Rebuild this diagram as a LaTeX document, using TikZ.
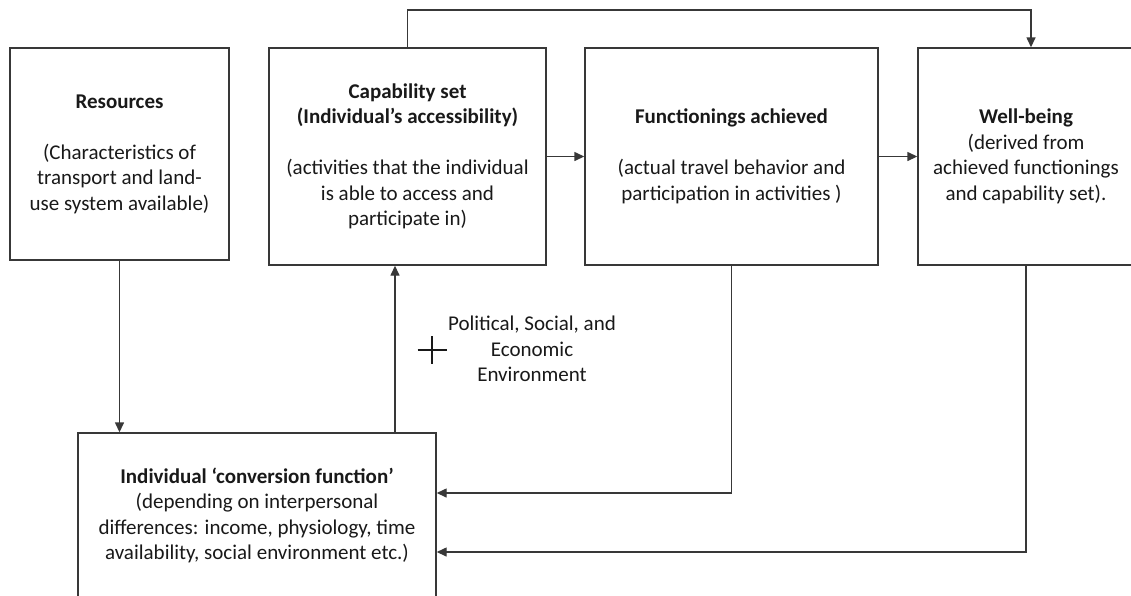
\documentclass[tikz,border=0pt]{standalone}
\usepackage{fontspec}
\setmainfont{Carlito}
\usetikzlibrary{arrows.meta}
\begin{document}
\begin{tikzpicture}[x=1pt,y=-1pt,
  box/.style={draw=black!78, line width=1.4pt, align=center, inner sep=0pt,
    font=\fontsize{21}{25.5}\selectfont, text=black!90},
  txt/.style={align=center, inner sep=0pt, font=\fontsize{21}{25.5}\selectfont, text=black!90},
  conn/.style={draw=black!78, line width=1.4pt, -{Triangle[length=10pt,width=9pt]}},
  plain/.style={draw=black!78, line width=1.4pt}]
\useasboundingbox (0,0) rectangle (1131,595);
\fill[white] (0,0) rectangle (1131,595);

\node[box, minimum width=219pt, minimum height=212pt] (res) at (119.5,154)
  {\textbf{Resources}\\[25.5pt](Characteristics of\\transport and land-\\use system available)};
\node[box, minimum width=277pt, minimum height=217pt] (cap) at (407.5,156.5)
  {\textbf{Capability set}\\\textbf{(Individual’s accessibility)}\\[25.5pt](activities that the individual\\is able to access and\\participate in)};
\node[box, minimum width=293pt, minimum height=217pt] (fun) at (731.5,156.5)
  {\textbf{Functionings achieved}\\[25.5pt](actual travel behavior and\\participation in activities )};
\node[box, minimum width=216pt, minimum height=217pt] (wb) at (1026,156.5)
  {\textbf{Well-being}\\(derived from\\achieved functionings\\and capability set).};
\node[box, minimum width=358pt, minimum height=165pt] (conv) at (257,515.5)
  {\textbf{Individual ‘conversion function’}\\(depending on interpersonal\\differences: income, physiology, time\\availability, social environment etc.)};

\node[txt] (env) at (532,349) {Political, Social, and\\Economic\\Environment};
\coordinate (plus) at (432,350);
\draw[line width=2.4pt, black!90] (plus) ++(-14.5,0) -- ++(29,0);
\draw[line width=2.4pt, black!90] (plus) ++(0,-14) -- ++(0,28);

\coordinate (upx) at (395,0);
\coordinate (topy) at (0,10);
\coordinate (wbx) at (1031,0);
\coordinate (y1) at (0,493);
\coordinate (y2) at (0,552);

\draw[conn] (res.south) -- (conv.north -| res.south);
\draw[conn] (conv.north -| upx) -- (cap.south -| upx);
\draw[conn] (cap.north) -- (cap.north |- topy) -- (topy -| wbx) -- (wb.north -| wbx);
\draw[conn] (cap.east) -- (fun.west);
\draw[conn] (fun.east) -- (wb.west);
\draw[conn] (fun.south) -- (fun.south |- y1) -- (conv.east |- y1);
\draw[conn] (wb.south) -- (wb.south |- y2) -- (conv.east |- y2);
\end{tikzpicture}
\end{document}
